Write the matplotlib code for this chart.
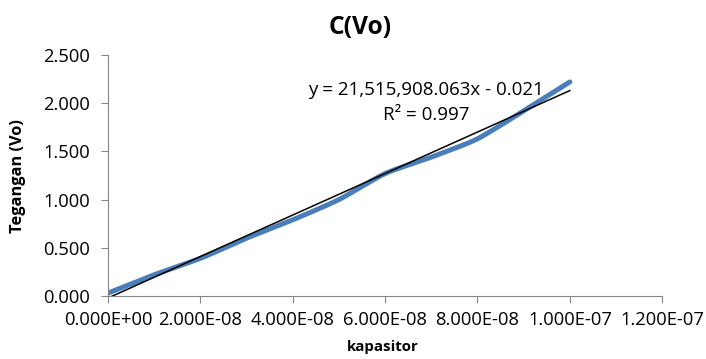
import matplotlib as mpl
mpl.use('Agg')
import matplotlib.pyplot as plt
import numpy as np
from matplotlib.ticker import FuncFormatter

# data
kapasitor = [0.0, 1e-8, 2e-8, 3e-8, 4e-8, 5e-8, 6e-8, 7e-8, 8e-8, 9e-8, 1e-7]
tegangan = [0.03, 0.22, 0.39, 0.60, 0.79, 1.00, 1.27, 1.44, 1.63, 1.92, 2.22]
slope = 21515908.063
intercept = -0.021
eq_text = 'y = 21,515,908.063x - 0.021'
r2_text = 'R² = 0.997'

plt.rcParams['font.family'] = ['Open Sans', 'DejaVu Sans']

fig = plt.figure(figsize=(7.06, 3.59), dpi=100)
ax = fig.add_axes([0.153, 0.1755, 0.785, 0.6715])

# smooth line like excel
xs = np.array(kapasitor)
ys = np.array(tegangan)
n = len(xs)
# cardinal spline through the points
pts_x, pts_y = [], []
for i in range(n - 1):
	p0 = max(i - 1, 0); p3 = min(i + 2, n - 1)
	t = np.linspace(0, 1, 20)
	for arr, out in ((xs, pts_x), (ys, pts_y)):
		a0, a1, a2, a3 = arr[p0], arr[i], arr[i + 1], arr[p3]
		m1 = (a2 - a0) / 2 * 0.66
		m2 = (a3 - a1) / 2 * 0.66
		h00 = 2*t**3 - 3*t**2 + 1; h10 = t**3 - 2*t**2 + t
		h01 = -2*t**3 + 3*t**2; h11 = t**3 - t**2
		out.extend(h00*a1 + h10*m1 + h01*a2 + h11*m2)
ax.plot(pts_x, pts_y, color='#4a7ebb', lw=3.6, solid_capstyle='round', zorder=2)

ax.plot([xs[0], xs[-1]], [slope*xs[0] + intercept, slope*xs[-1] + intercept], color='black', lw=1.1, zorder=3)

ax.set_xlim(0, 1.2e-7)
ax.set_ylim(0, 2.5)
ax.set_xticks(np.arange(0, 1.21e-7, 2e-8))
ax.set_yticks(np.arange(0, 2.51, 0.5))
ax.xaxis.set_major_formatter(FuncFormatter(lambda v, p: '%.3E' % v))
ax.yaxis.set_major_formatter(FuncFormatter(lambda v, p: '%.3f' % v))

for s in ['top', 'right']:
	ax.spines[s].set_visible(False)
for s in ['left', 'bottom']:
	ax.spines[s].set_color('#868686')
ax.tick_params(colors='#868686', labelcolor='black', labelsize=13.2, length=5, direction='out')
ax.tick_params(axis='y', pad=8)
ax.tick_params(axis='x', pad=6)

fig.text(0.51, 1 - 28/359, 'C(Vo)', fontsize=17.7, fontweight='bold', ha='center', va='center')
fig.text(383/706, 1 - 347/359, 'kapasitor', fontsize=10.8, fontweight='bold', ha='center', va='center')
fig.text(18/706, 1 - 176/359, 'Tegangan (Vo)', fontsize=11.8, fontweight='bold', ha='center', va='center', rotation=90)

ax.text(6.88e-8, 2.133, eq_text, fontsize=13.5, ha='center', va='center')
ax.text(6.88e-8, 1.874, r2_text, fontsize=13.5, ha='center', va='center')

plt.savefig('out.png', dpi=100)
